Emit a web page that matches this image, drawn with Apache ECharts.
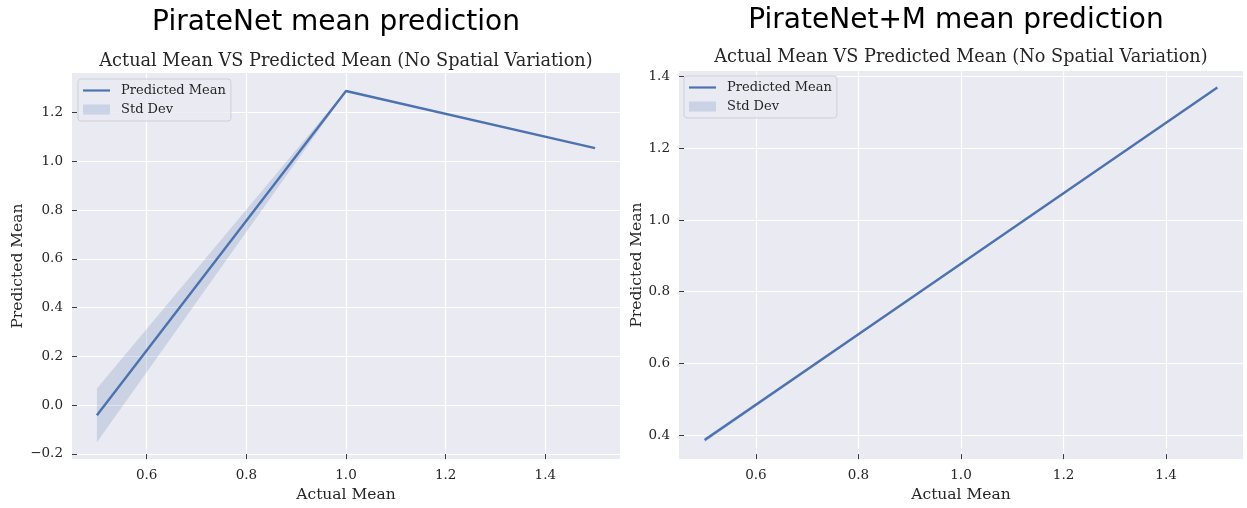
<!DOCTYPE html>
<html>
<head>
<meta charset="utf-8">
<script src="https://cdn.jsdelivr.net/npm/echarts@6/dist/echarts.min.js"></script>
<style>
  html, body { margin: 0; padding: 0; background: #ffffff; }
  #chart { width: 1247px; height: 508px; }
</style>
</head>
<body>
<div id="chart"></div>
<script>
// Actual mean values shared by both panels
const actualMean = [0.5, 1.0, 1.5];

// PirateNet: predicted mean and its standard deviation
const pirateMean = [-0.042, 1.288, 1.054];
const pirateStd = [0.110, 0.003, 0.000];

// PirateNet+M: predicted mean and its standard deviation
const pirateMMean = [0.386, 0.878, 1.370];
const pirateMStd = [0.006, 0.002, 0.001];

// Tick labels
const xTicks = [0.6, 0.8, 1.0, 1.2, 1.4];
const pirateYTicks = [-0.2, 0.0, 0.2, 0.4, 0.6, 0.8, 1.0, 1.2];
const pirateMYTicks = [0.4, 0.6, 0.8, 1.0, 1.2, 1.4];

const panelTitles = ['PirateNet mean prediction', 'PirateNet+M mean prediction'];
const axesTitle = 'Actual Mean VS Predicted Mean (No Spatial Variation)';
const xName = 'Actual Mean';
const yName = 'Predicted Mean';
const meanName = 'Predicted Mean';
const stdName = 'Std Dev';

const LINE = '#4c72b0';
const BAND = 'rgba(76,114,176,0.2)';
const BG = '#eaeaf2';
const TEXT = '#262626';
const SERIF = 'DejaVu Serif';

const fmt = v => v.toFixed(1).replace('-', '\u2212');

function xAxisFor(idx, gap) {
  return {
    type: 'value', gridIndex: idx, min: 0.45, max: 1.55,
    minInterval: 0.2, maxInterval: 0.2,
    name: xName, nameLocation: 'middle', nameGap: gap,
    nameTextStyle: { fontFamily: SERIF, fontSize: 15.5, color: TEXT },
    axisLine: { show: false, onZero: false },
    axisTick: { show: true, inside: true, length: 5, customValues: xTicks,
                lineStyle: { color: '#3a3a3a', width: 1 } },
    axisLabel: { customValues: xTicks, formatter: fmt, margin: 9,
                 fontFamily: SERIF, fontSize: 13.5, color: TEXT },
    splitLine: { show: true, lineStyle: { color: '#ffffff', width: 1.2 } }
  };
}

function yAxisFor(idx, min, max, ticks, gap) {
  return {
    type: 'value', gridIndex: idx, min: min, max: max,
    minInterval: 0.2, maxInterval: 0.2,
    name: yName, nameLocation: 'middle', nameGap: gap, nameRotate: 90,
    nameTextStyle: { fontFamily: SERIF, fontSize: 15.5, color: TEXT },
    axisLine: { show: false, onZero: false },
    axisTick: { show: true, inside: true, length: 5, customValues: ticks,
                lineStyle: { color: '#3a3a3a', width: 1 } },
    axisLabel: { customValues: ticks, formatter: fmt, margin: 9,
                 fontFamily: SERIF, fontSize: 13.5, color: TEXT },
    splitLine: { show: true, lineStyle: { color: '#ffffff', width: 1.2 } }
  };
}

// Shaded mean ± std band drawn as one polygon through the axis scales
function bandSeries(idx, mean, std) {
  const lower = mean.map((m, i) => m - std[i]);
  const upper = mean.map((m, i) => m + std[i]);
  return {
    type: 'custom', name: stdName, xAxisIndex: idx, yAxisIndex: idx, silent: true,
    data: actualMean.map((x, i) => [x, lower[i], upper[i]]),
    encode: { x: 0, y: [1, 2] },
    itemStyle: { color: BAND },
    z: 1,
    renderItem: function (params, api) {
      if (params.dataIndex !== 0) return null;
      const pts = [];
      for (let i = 0; i < actualMean.length; i++) pts.push(api.coord([actualMean[i], upper[i]]));
      for (let i = actualMean.length - 1; i >= 0; i--) pts.push(api.coord([actualMean[i], lower[i]]));
      return { type: 'polygon', shape: { points: pts }, style: { fill: BAND } };
    }
  };
}

function meanSeries(idx, mean) {
  return {
    type: 'line', name: meanName, xAxisIndex: idx, yAxisIndex: idx,
    data: actualMean.map((x, i) => [x, mean[i]]),
    showSymbol: false, symbol: 'none', z: 3,
    lineStyle: { color: LINE, width: 2.4 },
    itemStyle: { color: LINE }
  };
}

function legendFor(left, top) {
  return {
    left: left, top: top, orient: 'vertical',
    itemWidth: 27, itemHeight: 10, itemGap: 6,
    padding: [5, 5, 5, 5],
    backgroundColor: 'rgba(234,234,242,0.8)',
    borderColor: 'rgba(204,204,212,0.9)', borderWidth: 1, borderRadius: 3,
    selectedMode: false,
    textStyle: { fontFamily: SERIF, fontSize: 13, color: TEXT, padding: [0, 0, 0, 6] },
    data: [
      { name: meanName, icon: 'path://M0,0H27V2.2H0Z', itemStyle: { color: LINE } },
      { name: stdName, icon: 'rect', itemStyle: { color: BAND } }
    ]
  };
}

const chart = echarts.init(document.getElementById('chart'), null, { renderer: 'canvas' });

chart.setOption({
  backgroundColor: '#ffffff',
  animation: false,
  title: [
    { text: panelTitles[0], left: 336, top: 9, textAlign: 'center', padding: 0,
      textStyle: { fontFamily: 'DejaVu Sans', fontSize: 28, fontWeight: 'normal', color: '#000' } },
    { text: panelTitles[1], left: 956, top: 7, textAlign: 'center', padding: 0,
      textStyle: { fontFamily: 'DejaVu Sans', fontSize: 28, fontWeight: 'normal', color: '#000' } },
    { text: axesTitle, left: 346, top: 52, textAlign: 'center', padding: 0,
      textStyle: { fontFamily: SERIF, fontSize: 17.7, fontWeight: 'normal', color: TEXT } },
    { text: axesTitle, left: 961, top: 48, textAlign: 'center', padding: 0,
      textStyle: { fontFamily: SERIF, fontSize: 17.7, fontWeight: 'normal', color: TEXT } }
  ],
  grid: [
    { left: 72, top: 73, width: 548, height: 389, show: true, backgroundColor: BG, borderWidth: 0, containLabel: false },
    { left: 679, top: 71, width: 564, height: 391, show: true, backgroundColor: BG, borderWidth: 0, containLabel: false }
  ],
  xAxis: [xAxisFor(0, 23), xAxisFor(1, 23)],
  yAxis: [
    yAxisFor(0, -0.2215, 1.362, pirateYTicks, 44),
    yAxisFor(1, 0.333, 1.416, pirateMYTicks, 33)
  ],
  legend: [legendFor(78, 79), legendFor(684, 76)],
  series: [
    bandSeries(0, pirateMean, pirateStd),
    meanSeries(0, pirateMean),
    bandSeries(1, pirateMMean, pirateMStd),
    meanSeries(1, pirateMMean)
  ]
});
</script>
</body>
</html>
